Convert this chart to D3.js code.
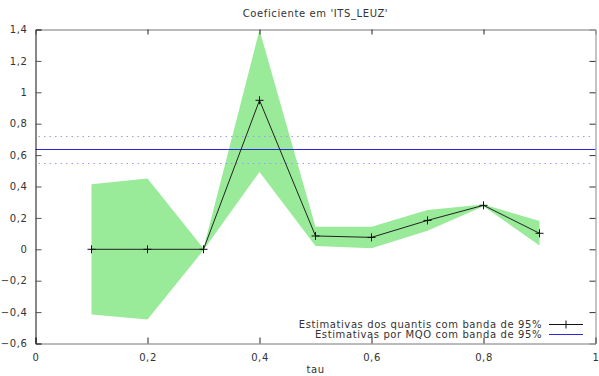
<!DOCTYPE html>
<html><head><meta charset="utf-8">
<script src="https://cdn.jsdelivr.net/npm/d3@7"></script>
<style>body{margin:0;background:#fff}svg{display:block}text{font-family:"DejaVu Sans",Verdana,sans-serif;font-size:10px;letter-spacing:0.6px;fill:#333}</style>
</head><body><svg id="c" width="599" height="376"></svg>
<script>
const tau = [0.1,0.2,0.3,0.4,0.5,0.6,0.7,0.8,0.9];
const estimate = [0,0,0,0.949,0.085,0.076,0.184,0.28,0.102];
const lower = [-0.415,-0.447,-0.005,0.493,0.021,0.006,0.118,0.274,0.025];
const upper = [0.415,0.451,0.005,1.397,0.144,0.144,0.25,0.286,0.18];
const olsValue = 0.637;
const olsLower = 0.552;
const olsUpper = 0.72;
const xTicks = [0,0.2,0.4,0.6,0.8,1];
const yTicks = [-0.6,-0.4,-0.2,0,0.2,0.4,0.6,0.8,1,1.2,1.4];
const title = "Coeficiente em 'ITS_LEUZ'";
const xLabel = "tau";
const legendLabels = ["Estimativas dos quantis com banda de 95%","Estimativas por MQO com banda de 95%"];

const svg = d3.select("#c");
const L=35.5, R=595.5, T=29.5, B=343.5;
const x = d3.scaleLinear().domain([0,1]).range([L,R]);
const y = d3.scaleLinear().domain([-0.6,1.4]).range([B,T]);
const fmt = d => d3.format("")(+d.toFixed(1)).replace(".",",");

// band
const data = tau.map((t,i)=>({t,e:estimate[i],lo:lower[i],hi:upper[i]}));
svg.append("path").datum(data)
  .attr("d", d3.area().x(d=>x(d.t)).y0(d=>y(d.lo)).y1(d=>y(d.hi)))
  .attr("fill","#99ea99");

// OLS lines
svg.append("line").attr("x1",L).attr("x2",R).attr("y1",Math.round(y(olsValue))+0.5).attr("y2",Math.round(y(olsValue))+0.5)
  .attr("stroke","#2a2ad8").attr("stroke-width",1);
[olsLower,olsUpper].forEach(v=>{
  svg.append("line").attr("x1",L+3).attr("x2",R-5).attr("y1",Math.round(y(v))+0.5).attr("y2",Math.round(y(v))+0.5)
    .attr("stroke","#9a9aff").attr("stroke-width",1).attr("stroke-dasharray","1.5,4");
});

// estimate line
svg.append("path").datum(data)
  .attr("d", d3.line().x(d=>x(d.t)).y(d=>y(d.e)))
  .attr("fill","none").attr("stroke","#222").attr("stroke-width",1);
svg.selectAll(".pt").data(data).enter().append("path")
  .attr("d", d=>`M${x(d.t)-4},${y(d.e)}H${x(d.t)+4}M${x(d.t)},${y(d.e)-4}V${y(d.e)+4}`)
  .attr("stroke","#111").attr("stroke-width",1);

// axes
const xb = d3.axisBottom(x).tickValues(xTicks).tickSize(-6).tickPadding(10).tickFormat(fmt);
const gx = svg.append("g").attr("transform",`translate(0,${B})`).call(xb);
gx.select(".domain").attr("stroke","#777");
gx.selectAll(".tick line").attr("stroke","#222");
gx.selectAll("text").attr("fill","#333").style("font-size","10px");
const xt = d3.axisTop(x).tickValues(xTicks.slice(1,-1)).tickSize(-5).tickFormat("");
const gxt = svg.append("g").attr("transform",`translate(0,${T})`).call(xt);
gxt.select(".domain").attr("stroke","#777");
gxt.selectAll(".tick line").attr("stroke","#222");

const yl = d3.axisLeft(y).tickValues(yTicks).tickSize(-6).tickPadding(8).tickFormat(fmt);
const gy = svg.append("g").attr("transform",`translate(${L},0)`).call(yl);
gy.select(".domain").attr("stroke","#111");
gy.selectAll(".tick line").attr("stroke","#555");
gy.selectAll("text").attr("fill","#333").style("font-size","10px");
const yr = d3.axisRight(y).tickValues(yTicks.slice(1,-1)).tickSize(-6).tickFormat("");
const gyr = svg.append("g").attr("transform",`translate(${R},0)`).call(yr);
gyr.select(".domain").attr("stroke","#888");
gyr.selectAll(".tick line").attr("stroke","#333");

// title and x label
svg.append("text").attr("x",(L+R)/2).attr("y",17).attr("text-anchor","middle").attr("fill","#222").text(title);
svg.append("text").attr("x",(L+R)/2).attr("y",373).attr("text-anchor","middle").attr("fill","#222").text(xLabel);

// legend
const lg = svg.append("g");
legendLabels.forEach((s,i)=>{
  const yy = 324.5 + i*10;
  lg.append("text").attr("x",542).attr("y",yy+3.5).attr("text-anchor","end").attr("fill","#222").text(s);
  lg.append("line").attr("x1",549).attr("x2",583).attr("y1",yy).attr("y2",yy)
    .attr("stroke", i===0?"#111":"#2a2ad8");
  if(i===0) lg.append("line").attr("x1",566).attr("x2",566).attr("y1",yy-4).attr("y2",yy+4).attr("stroke","#111");
});
</script></body></html>
